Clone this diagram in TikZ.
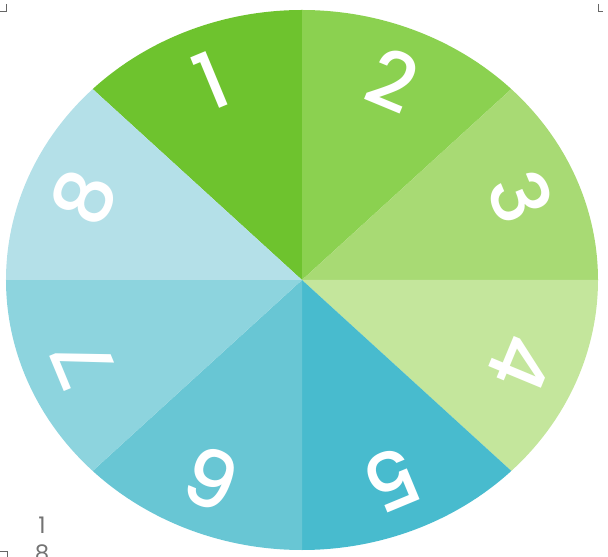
\documentclass[tikz,border=0pt]{standalone}
\usepackage{fontspec}
\setmainfont{Poppins}[BoldFont={Poppins Medium}]
\definecolor{wedgeA}{RGB}{110,195,46}
\definecolor{wedgeB}{RGB}{139,209,80}
\definecolor{wedgeC}{RGB}{168,218,116}
\definecolor{wedgeD}{RGB}{196,230,156}
\definecolor{wedgeE}{RGB}{72,187,206}
\definecolor{wedgeF}{RGB}{104,198,212}
\definecolor{wedgeG}{RGB}{141,212,222}
\definecolor{wedgeH}{RGB}{180,224,232}
\tikzset{
  digit/.style={text=white,inner sep=0pt,font=\fontsize{45}{47}\selectfont\bfseries},
  pagenum/.style={text=black!55,inner sep=0pt,font=\fontsize{13}{14}\selectfont},
  cropmark/.style={black!60,line width=0.4pt}
}
\begin{document}
\begin{tikzpicture}[x=0.02cm,y=0.02cm]
\useasboundingbox (-302,-277) rectangle (306,280);

% wedges, counted clockwise from the top
\foreach \a/\col in {90/wedgeA,45/wedgeB,0/wedgeC,-45/wedgeD,-90/wedgeE,-135/wedgeF,-180/wedgeG,-225/wedgeH}
  \fill[\col] (0,0) -- (\a:296 and 270) arc[start angle=\a,end angle=\a+45,x radius=296,y radius=270] -- cycle;

% numbers, tops pointing outwards
\foreach \n/\a in {1/112.5,2/67.5,3/22.5,4/-22.5,5/-67.5,6/-112.5,7/-157.5,8/-202.5}
  \node[digit,rotate=\a-90] (d\n) at (\a:0.8*296 and 0.8*270) {\n};

% page number at the bottom left
\node[pagenum] (p1) at (-260,-245) {1};
\node[pagenum] (p2) at (-260,-273) {8};

% crop marks
\draw[cropmark] (-296,276) -- (-296,269) (-302,269) -- (-295,269);
\draw[cropmark] (296,276) -- (296,269) (296,269) -- (301,269);
\draw[cropmark] (-302,-271) -- (-295,-271) (-295,-271) -- (-295,-277);
\end{tikzpicture}
\end{document}
